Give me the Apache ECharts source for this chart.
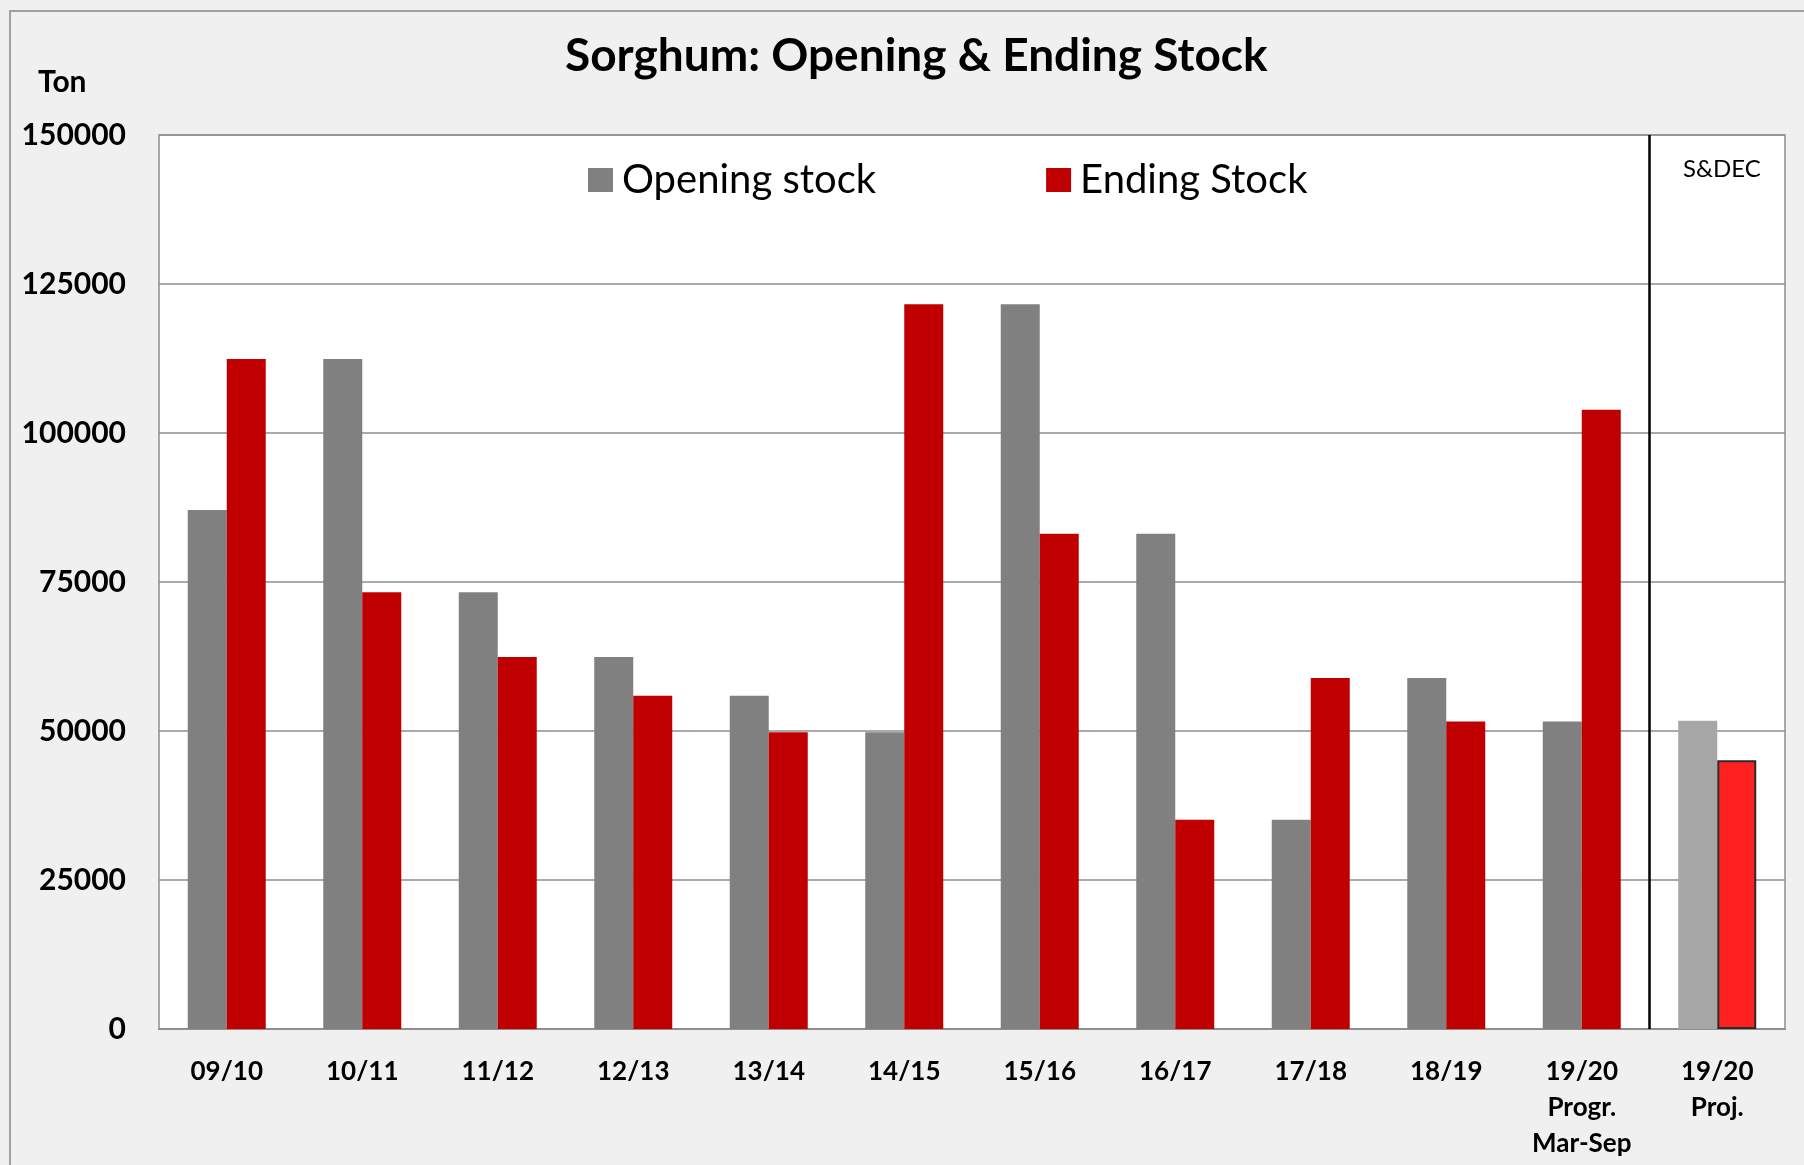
<!DOCTYPE html>
<html>
<head>
<meta charset="utf-8">
<title>Sorghum: Opening & Ending Stock</title>
<script src="https://cdn.jsdelivr.net/npm/echarts@6/dist/echarts.min.js"></script>
<style>
  html, body { margin: 0; padding: 0; background: #f0f0f0; }
  #myChart { width: 1804px; height: 1165px; }
</style>
</head>
<body>
<div id="myChart"></div>
<script>
  // data
  let categories = ['09/10', '10/11', '11/12', '12/13', '13/14', '14/15', '15/16',
    '16/17', '17/18', '18/19', '19/20\nProgr.\nMar-Sep', '19/20\nProj.']
  let openingStock = [87100, 112400, 73300, 62400, 55900, 49800, 121600, 83100, 35100, 58900, 51600, 51700]
  let endingStock = [112400, 73300, 62400, 55900, 49800, 121600, 83100, 35100, 58900, 51600, 103900, 45100]
  let yTicks = { min: 0, max: 150000, step: 25000 }
  // last column is the S&DEC projection, drawn in lighter colours
  let projIndex = 11

  let font = 'Lato, "Open Sans", sans-serif'

  let openingData = openingStock.map(function (v, i) {
    if (i === projIndex) return { value: v, itemStyle: { color: '#a6a6a6' } }
    return v
  })
  let endingData = endingStock.map(function (v, i) {
    if (i === projIndex) return { value: v, itemStyle: { color: '#ff2020', borderColor: '#2b2b2b', borderWidth: 2 } }
    return v
  })

  let myChart = echarts.init(document.getElementById('myChart'))
  myChart.setOption({
    backgroundColor: '#f0f0f0',
    animation: false,
    textStyle: { fontFamily: font },
    title: [
      {
        text: 'Sorghum: Opening & Ending Stock',
        left: 560, top: 28,
        textStyle: { fontFamily: font, fontSize: 46, fontWeight: 'bold', color: '#000' }
      },
      {
        text: 'Ton',
        left: 33, top: 62,
        textStyle: { fontFamily: font, fontSize: 30, fontWeight: 'bold', color: '#000' }
      },
      {
        text: 'S&DEC',
        left: 1678, top: 152,
        textStyle: { fontFamily: font, fontSize: 24, fontWeight: 'normal', color: '#000' }
      }
    ],
    legend: {
      left: 583, top: 154,
      itemWidth: 25, itemHeight: 24, itemGap: 170,
      icon: 'rect',
      textStyle: { fontFamily: font, fontSize: 40, color: '#000', lineHeight: 42, padding: [0, 0, 0, 4] },
      data: ['Opening stock', 'Ending Stock']
    },
    graphic: [{
      type: 'rect',
      shape: { x: 10, y: 11, width: 1900, height: 1300 },
      style: { fill: 'none', stroke: '#a0a0a0', lineWidth: 2 },
      silent: true
    }],
    grid: {
      left: 159, top: 135, right: 19, bottom: 136,
      show: true, backgroundColor: '#fff', borderColor: '#8e8e8e', borderWidth: 1.5
    },
    xAxis: [
      {
        type: 'category',
        data: categories,
        axisLine: { lineStyle: { color: '#8e8e8e', width: 2 } },
        axisTick: { show: false },
        axisLabel: {
          interval: 0, margin: 25, color: '#000',
          fontFamily: font, fontSize: 26, fontWeight: 'bold', lineHeight: 36
        }
      },
      {
        // hidden helper axis, one unit per category, for the separator line
        type: 'value',
        min: 0, max: categories.length,
        show: false
      }
    ],
    yAxis: {
      type: 'value',
      min: yTicks.min, max: yTicks.max, interval: yTicks.step,
      axisLine: { show: false },
      axisTick: { show: false },
      splitLine: { lineStyle: { color: '#8e8e8e', width: 1.5 } },
      axisLabel: {
        margin: 33, color: '#000', fontFamily: font, fontSize: 30, fontWeight: 'bold',
        formatter: function (v) { return String(v) }
      }
    },
    series: [
      {
        name: 'Opening stock',
        type: 'bar',
        barWidth: 39,
        barGap: '0%',
        itemStyle: { color: '#808080' },
        data: openingData
      },
      {
        name: 'Ending Stock',
        type: 'bar',
        barWidth: 39,
        barGap: '0%',
        itemStyle: { color: '#c00000' },
        data: endingData
      },
      {
        name: 'separator',
        type: 'line',
        xAxisIndex: 1,
        data: [],
        markLine: {
          silent: true,
          symbol: ['none', 'none'],
          label: { show: false },
          lineStyle: { color: '#000', width: 2.5, type: 'solid' },
          data: [{ xAxis: projIndex }]
        }
      }
    ]
  })
</script>
</body>
</html>
